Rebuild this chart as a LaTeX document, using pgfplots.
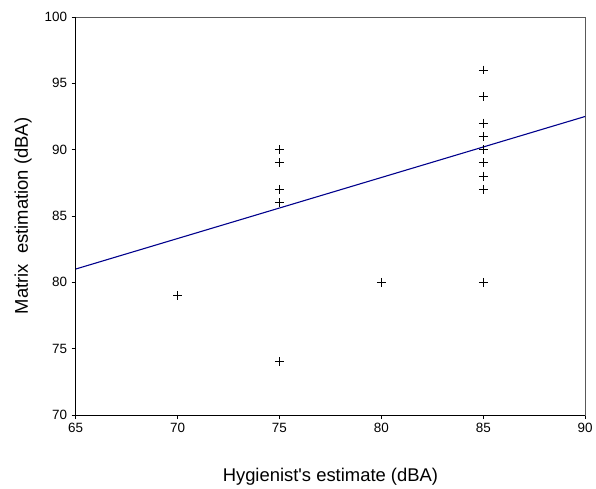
\documentclass[border=0pt]{standalone}
\usepackage{fontspec}
\setmainfont{Liberation Sans}
\usepackage{pgfplots}
\pgfplotsset{compat=1.18}

\begin{document}
\begin{tikzpicture}
\begin{axis}[
    scale only axis,
    width=512pt, height=400pt,
    xmin=65, xmax=90, ymin=70, ymax=100,
    xtick={65,70,...,90}, ytick={70,75,...,100},
    tick align=outside, xtick pos=left, ytick pos=left,
    major tick length=4pt,
    tick style={black, line width=0.8pt},
    axis line style={gray!70!black, line width=0.6pt},
    /pgf/number format/assume math mode=true,
    ticklabel style={font=\fontsize{13.5}{15}\selectfont},
    xticklabel style={yshift=-1pt},
    yticklabel style={xshift=-1pt},
    xlabel={Hygienist\textquotesingle s estimate (dBA)},
    ylabel={Matrix\ \ estimation (dBA)},
    label style={font=\fontsize{18.5}{20}\selectfont},
    xlabel style={at={(axis description cs:0.5,0)}, anchor=base, yshift=-67pt},
    ylabel style={at={(axis description cs:0,0.5)}, anchor=base, yshift=48pt},
    clip=false,
]
% observations
\addplot[only marks, mark=+, mark size=4.5pt, black, line width=0.9pt] coordinates {
    (70,79) (75,74) (75,86) (75,87) (75,89) (75,90)
    (80,80) (85,80) (85,87) (85,88) (85,89) (85,90)
    (85,91) (85,92) (85,94) (85,96)
};
% fitted line
\addplot[color={rgb,255:red,0;green,0;blue,140}, line width=1.1pt] coordinates {
    (65,81.0) (90,92.5)
};
\draw[black, line width=1pt] (rel axis cs:0,1) -- (rel axis cs:0,0) -- (rel axis cs:1,0);
\end{axis}
\path[use as bounding box] (current axis.south west) ++(-76pt,-71pt) rectangle ++(596pt,488pt);
\end{tikzpicture}
\end{document}
